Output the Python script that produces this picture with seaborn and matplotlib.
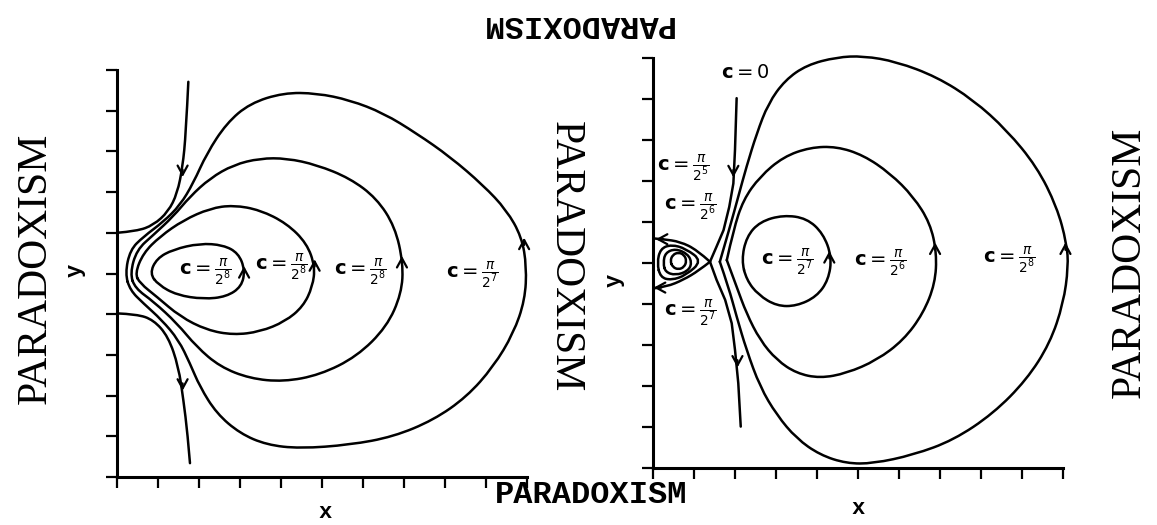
import numpy as np
import pandas as pd
import matplotlib
matplotlib.use('Agg')
import matplotlib.pyplot as plt
from matplotlib.path import Path
from matplotlib.patches import PathPatch
import seaborn as sns

sns.set_theme(style='white')
plt.rcParams['font.family'] = ['Liberation Mono', 'DejaVu Sans']
plt.rcParams['mathtext.fontset'] = 'dejavusans'
plt.rcParams['text.color'] = 'black'

# ---------------- left panel: trajectories (0..10 grid) --------
left_loop1_x = [0.80, 0.97, 1.37, 2.02, 2.59, 2.96, 3.12, 3.04, 2.67, 2.11, 1.46, 1.01]
left_loop1_y = [5.00, 5.37, 5.59, 5.74, 5.70, 5.50, 5.09, 4.68, 4.43, 4.37, 4.47, 4.72]

left_loop2_x = [0.44, 0.64, 1.05, 1.62, 2.27, 2.84, 3.49, 4.14, 4.63, 4.83, 4.77, 4.54,
                4.10, 3.49, 2.84, 2.19, 1.54, 0.97, 0.56]
left_loop2_y = [5.00, 5.50, 5.91, 6.31, 6.60, 6.68, 6.56, 6.23, 5.74, 5.17, 4.68, 4.19,
                3.82, 3.57, 3.49, 3.61, 3.94, 4.43, 4.76]

left_loop3_x = [0.32, 0.48, 0.89, 1.37, 1.78, 2.27, 2.84, 3.49, 4.14, 4.87, 5.68, 6.33,
                6.78, 6.98, 6.94, 6.58, 5.85, 4.95, 4.06, 3.24, 2.51, 1.94, 1.46, 0.89, 0.44]
left_loop3_y = [5.00, 5.58, 5.95, 6.40, 6.89, 7.34, 7.67, 7.83, 7.83, 7.67, 7.34, 6.85,
                6.15, 5.25, 4.51, 3.69, 2.96, 2.51, 2.34, 2.42, 2.71, 3.20, 3.78, 4.31, 4.64]

left_loop4_x = [0.20, 0.32, 0.64, 1.13, 1.54, 1.86, 2.19, 2.67, 3.24, 4.06, 4.87, 5.68,
                6.50, 7.31, 8.12, 8.93, 9.50, 9.87, 9.99, 9.95, 9.67, 9.18, 8.53, 7.72,
                6.74, 5.68, 4.46, 3.65, 3.00, 2.43, 2.02, 1.78, 1.50, 1.09, 0.64, 0.32]
left_loop4_y = [5.00, 5.58, 5.90, 6.27, 6.68, 7.22, 7.95, 8.69, 9.18, 9.44, 9.43, 9.26,
                8.94, 8.44, 7.87, 7.17, 6.56, 5.90, 5.17, 4.35, 3.53, 2.71, 1.97, 1.40,
                0.99, 0.79, 0.70, 0.79, 1.07, 1.56, 2.22, 2.79, 3.37, 3.86, 4.27, 4.59]

left_sep_top_x = [1.74, 1.68, 1.60, 1.47, 1.25, 0.89, 0.48, 0.00]
left_sep_top_y = [9.71, 8.44, 7.62, 6.97, 6.52, 6.19, 6.04, 6.00]
left_sep_bot_x = [0.00, 0.48, 0.89, 1.25, 1.50, 1.62, 1.72, 1.78]
left_sep_bot_y = [4.02, 4.00, 3.86, 3.45, 2.71, 1.89, 1.07, 0.34]

left_arrow_x = [1.60, 1.60, 3.10, 4.82, 6.95, 9.93]
left_arrow_y = [7.55, 2.30, 5.00, 5.17, 5.25, 5.70]
left_arrow_dir = ['down', 'down', 'up', 'up', 'up', 'up']

left_label_x = [2.15, 4.00, 5.93, 8.68]
left_label_y = [5.04, 5.16, 5.04, 4.96]
left_label_n = ['8', '8', '8', '7']

# ---------------- right panel ----------------
right_loop1_x = [2.16, 2.28, 2.61, 3.18, 3.75, 4.15, 4.36, 4.28, 3.99, 3.50, 3.02, 2.57, 2.28]
right_loop1_y = [5.07, 5.64, 6.01, 6.17, 6.09, 5.72, 5.15, 4.59, 4.18, 3.95, 3.95, 4.22, 4.59]

# these two start at their pointed left vertex
right_loop2_x = [1.80, 1.96, 2.20, 2.61, 3.18, 3.83, 4.48, 5.13, 5.78, 6.35, 6.76, 6.92,
                 6.88, 6.59, 6.11, 5.46, 4.72, 4.07, 3.50, 3.02, 2.61, 2.28, 2.04]
right_loop2_y = [5.07, 5.80, 6.54, 7.11, 7.59, 7.82, 7.84, 7.63, 7.19, 6.62, 5.97, 5.24,
                 4.50, 3.77, 3.12, 2.63, 2.31, 2.19, 2.31, 2.63, 3.12, 3.77, 4.42]

right_loop3_x = [1.63, 1.88, 2.08, 2.28, 2.53, 2.81, 3.22, 3.75, 4.48, 5.13, 5.94, 6.92,
                 7.81, 8.63, 9.36, 9.85, 10.09, 10.13, 10.01, 9.68, 9.11, 8.30, 7.33,
                 6.35, 5.37, 4.72, 4.07, 3.50, 3.02, 2.61, 2.28, 2.04, 1.84]
right_loop3_y = [5.03, 5.89, 6.62, 7.35, 8.16, 8.89, 9.46, 9.83, 10.02, 10.05, 9.91, 9.54,
                 8.98, 8.24, 7.35, 6.37, 5.48, 4.91, 4.02, 3.04, 2.15, 1.33, 0.68,
                 0.32, 0.11, 0.11, 0.32, 0.72, 1.29, 1.98, 2.88, 3.69, 4.42]

# c = 0 separatrix: upper branch, lower branch and the homoclinic loop on the left
right_sep_top_x = [2.04, 2.00, 1.96, 1.86, 1.72, 1.55, 1.39]
right_sep_top_y = [9.02, 7.76, 6.94, 6.37, 5.80, 5.40, 5.03]
right_sep_bot_x = [1.39, 1.55, 1.76, 1.92, 2.00, 2.08, 2.14]
right_sep_bot_y = [5.03, 4.59, 4.10, 3.53, 2.88, 2.07, 1.01]
right_homo_top_x = [1.39, 1.07, 0.66, 0.25, 0.01]
right_homo_top_y = [5.03, 5.32, 5.52, 5.58, 5.60]
right_homo_bot_x = [0.01, 0.33, 0.74, 1.11, 1.39]
right_homo_bot_y = [4.38, 4.42, 4.59, 4.81, 5.03]

right_small1_x = [0.10, 0.18, 0.45, 0.80, 1.20, 0.80, 0.45, 0.18]
right_small1_y = [5.00, 5.35, 5.45, 5.35, 5.05, 4.70, 4.58, 4.65]
right_small2_x = [0.25, 0.30, 0.55, 0.85, 0.95, 0.85, 0.55, 0.30]
right_small2_y = [5.00, 5.25, 5.35, 5.22, 5.00, 4.80, 4.70, 4.78]
right_small3_x = [0.42, 0.48, 0.62, 0.76, 0.82, 0.76, 0.62, 0.48]
right_small3_y = [5.05, 5.20, 5.26, 5.20, 5.05, 4.90, 4.84, 4.90]

right_arrow_x = [1.96, 2.06, 4.30, 6.88, 10.06, 0.25, 0.20]
right_arrow_y = [7.27, 2.63, 5.11, 5.32, 5.32, 5.58, 4.40]
right_arrow_dir = ['down', 'down', 'up', 'up', 'up', 'left', 'left']

right_label_x = [0.73, 0.90, 0.90, 3.27, 5.54, 8.70]
right_label_y = [7.32, 6.37, 3.78, 5.02, 5.00, 5.07]
right_label_n = ['5', '6', '7', '7', '6', '8']
c0_label_xy = (2.24, 9.63)

LW = 1.8


def smooth(ax, xs, ys, closed=False):
    # quadratic bezier through the midpoints of the read points
    p = np.column_stack([xs, ys])
    n = len(p)
    if closed:
        mids = (p + np.roll(p, -1, axis=0)) / 2
        verts = [mids[-1]]
        codes = [Path.MOVETO]
        for i in range(n):
            verts += [p[i], mids[i]]
            codes += [Path.CURVE3, Path.CURVE3]
    else:
        verts = [p[0]]
        codes = [Path.MOVETO]
        for i in range(1, n - 1):
            end = p[i + 1] if i == n - 2 else (p[i] + p[i + 1]) / 2
            verts += [p[i], end]
            codes += [Path.CURVE3, Path.CURVE3]
        if n == 2:
            verts.append(p[1])
            codes.append(Path.LINETO)
    ax.add_patch(PathPatch(Path(verts, codes), fill=False, edgecolor='black', lw=LW,
                           capstyle='round', joinstyle='round', clip_on=False))


def line(ax, xs, ys):
    df = pd.DataFrame({'x': xs, 'y': ys})
    sns.lineplot(data=df, x='x', y='y', sort=False, estimator=None, color='black',
                 lw=LW, ax=ax, clip_on=False)


def arrows(ax, xs, ys, dirs):
    d = 0.18
    step = {'up': (0, d), 'down': (0, -d), 'left': (-d, 0), 'right': (d, 0)}
    for x, y, k in zip(xs, ys, dirs):
        dx, dy = step[k]
        ax.annotate('', xy=(x + dx, y + dy), xytext=(x, y),
                    arrowprops=dict(arrowstyle='->,head_length=0.55,head_width=0.3',
                                    color='black', lw=1.6, shrinkA=0, shrinkB=0),
                    annotation_clip=False)


def style_axes(ax):
    ax.set_xlim(0, 10)
    ax.set_ylim(0, 10)
    ax.set_xticks(np.arange(0, 11))
    ax.set_yticks(np.arange(0, 11))
    ax.set_xticklabels([])
    ax.set_yticklabels([])
    ax.set_xlabel('')
    ax.set_ylabel('')
    for s in ['top', 'right']:
        ax.spines[s].set_visible(False)
    for s in ['left', 'bottom']:
        ax.spines[s].set_color('black')
        ax.spines[s].set_linewidth(2.2)
    ax.tick_params(direction='out', length=8, width=1.6, color='black',
                   bottom=True, left=True)
    ax.grid(False)
    ax.set_facecolor('white')


def label(ax, x, y, n):
    ax.text(x, y, r'$\mathbf{c} = \frac{\pi}{2^{%s}}$' % n, ha='center', va='center',
            fontsize=14, color='black')


fig = plt.figure(figsize=(11.57, 5.25), dpi=100)
ax1 = fig.add_axes([117 / 1157, 1 - 477 / 525, 410 / 1157, 407 / 525])
ax2 = fig.add_axes([653 / 1157, 1 - 468 / 525, 410 / 1157, 410 / 525])

# left panel
for xs, ys in [(left_loop1_x, left_loop1_y), (left_loop2_x, left_loop2_y),
               (left_loop3_x, left_loop3_y), (left_loop4_x, left_loop4_y)]:
    smooth(ax1, xs, ys, closed=True)
smooth(ax1, left_sep_top_x, left_sep_top_y)
smooth(ax1, left_sep_bot_x, left_sep_bot_y)
arrows(ax1, left_arrow_x, left_arrow_y, left_arrow_dir)
for x, y, n in zip(left_label_x, left_label_y, left_label_n):
    label(ax1, x, y, n)
style_axes(ax1)

# right panel
smooth(ax2, right_loop1_x, right_loop1_y, closed=True)
for xs, ys in [(right_loop2_x, right_loop2_y), (right_loop3_x, right_loop3_y)]:
    smooth(ax2, xs + xs[:1], ys + ys[:1])
line(ax2, right_sep_top_x, right_sep_top_y)
line(ax2, right_sep_bot_x, right_sep_bot_y)
smooth(ax2, right_homo_top_x, right_homo_top_y)
smooth(ax2, right_homo_bot_x, right_homo_bot_y)
for xs, ys in [(right_small1_x, right_small1_y), (right_small2_x, right_small2_y),
               (right_small3_x, right_small3_y)]:
    smooth(ax2, xs, ys, closed=True)
arrows(ax2, right_arrow_x, right_arrow_y, right_arrow_dir)
for x, y, n in zip(right_label_x, right_label_y, right_label_n):
    label(ax2, x, y, n)
ax2.text(c0_label_xy[0], c0_label_xy[1], r'$\mathbf{c} = 0$', ha='center', va='center',
         fontsize=14, color='black')
style_axes(ax2)

# axis letters
fig.text(325 / 1157, 1 - 513 / 525, 'x', fontsize=16, fontweight='bold', ha='center', va='center')
fig.text(858 / 1157, 1 - 508 / 525, 'x', fontsize=16, fontweight='bold', ha='center', va='center')
fig.text(75 / 1157, 1 - 270 / 525, 'y', fontsize=16, fontweight='bold', rotation=90,
         ha='center', va='center')
fig.text(614 / 1157, 1 - 280 / 525, 'y', fontsize=16, fontweight='bold', rotation=90,
         ha='center', va='center')

# watermark text around the figure
mono = dict(family=['Liberation Mono', 'DejaVu Sans Mono'], fontweight='bold',
            fontsize=23, ha='center', va='center', color='black')
fig.text(577 / 1157, 1 - 24 / 525, 'PARADOXISM', rotation=180, **mono)
fig.text(591 / 1157, 1 - 495 / 525, 'PARADOXISM', **mono)
serif = dict(family=['Liberation Serif', 'DejaVu Serif'], fontsize=30,
             ha='center', va='center', color='black')
fig.text(36 / 1157, 1 - 268 / 525, 'PARADOXISM', rotation=90, **serif)
fig.text(565 / 1157, 1 - 257 / 525, 'PARADOXISM', rotation=270, **serif)
fig.text(1130 / 1157, 1 - 262 / 525, 'PARADOXISM', rotation=90, **serif)

fig.savefig('out.png', dpi=100, facecolor='white')
